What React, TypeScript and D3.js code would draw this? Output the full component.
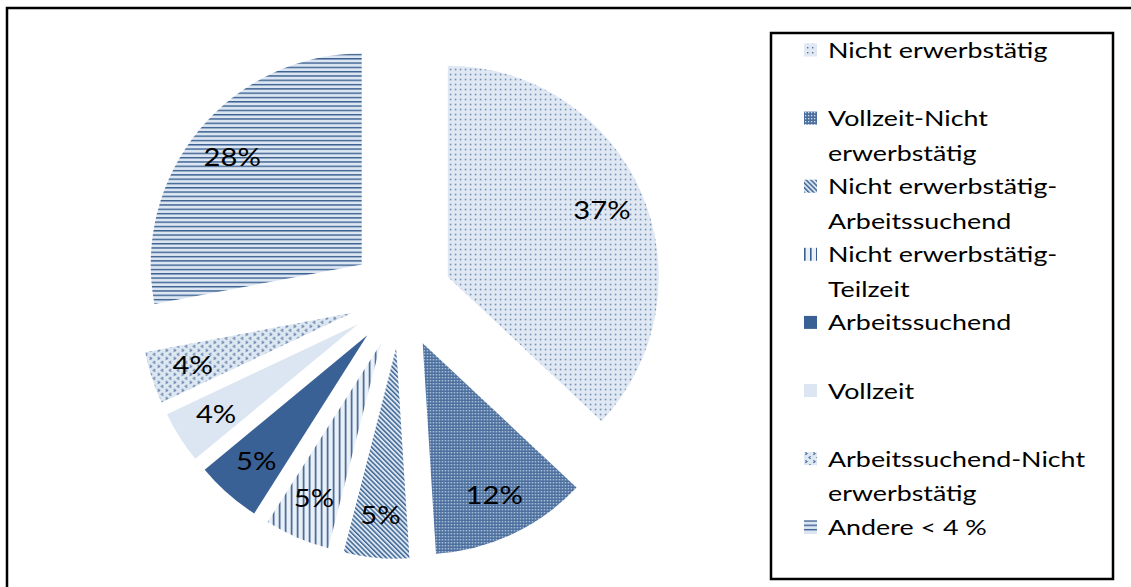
import React from "react";
import * as d3 from "d3";

const categories = [
  "Nicht erwerbstätig",
  "Vollzeit-Nicht erwerbstätig",
  "Nicht erwerbstätig-Arbeitssuchend",
  "Nicht erwerbstätig-Teilzeit",
  "Arbeitssuchend",
  "Vollzeit",
  "Arbeitssuchend-Nicht erwerbstätig",
  "Andere < 4 %",
];
const legendLines = [
  ["Nicht erwerbstätig"],
  ["Vollzeit-Nicht", "erwerbstätig"],
  ["Nicht erwerbstätig-", "Arbeitssuchend"],
  ["Nicht erwerbstätig-", "Teilzeit"],
  ["Arbeitssuchend"],
  ["Vollzeit"],
  ["Arbeitssuchend-Nicht", "erwerbstätig"],
  ["Andere < 4 %"],
];
const values = [37, 12, 5, 5, 5, 4, 4, 28];
const valueLabels = ["37%", "12%", "5%", "5%", "5%", "4%", "4%", "28%"];
const patternIds = ["pDots", "pChecker", "pDiag", "pVert", "pSolidDark", "pSolidLight", "pChevron", "pHoriz"];

const W = 1131;
const H = 587;
const FONT = "Lato, 'Open Sans', sans-serif";

export default function App() {
  const cx = 401;
  const cy = 297;
  const r = 211;
  const explode = 51;
  const labelR = 168;

  const pie = d3
    .pie<number>()
    .sort(null)
    .value((d) => d)
    .startAngle(0)
    .endAngle(2 * Math.PI);
  const arcs = pie(values);
  const arc = d3.arc<d3.PieArcDatum<number>>().innerRadius(0).outerRadius(r);

  const legendX = 771;
  const legendY = 33;
  const legendW = 342;
  const legendH = 546;
  const entryY0 = 50;
  const entryStep = 68.1;
  const lineStep = 34.5;

  return (
    <svg
      width={W}
      height={H}
      style={{ position: "absolute", left: 0, top: 0, background: "#fff" }}
    >
      <defs>
        <pattern id="pDots" width={5} height={5} patternUnits="userSpaceOnUse">
          <rect width={5} height={5} fill="#dfe8f3" />
          <rect x={2} y={2} width={1.4} height={1.4} fill="#4f709c" />
        </pattern>
        <pattern id="pChecker" width={3} height={3} patternUnits="userSpaceOnUse">
          <rect width={3} height={3} fill="#4a6e9d" />
          <rect x={1} y={1} width={1.3} height={1.3} fill="#d3dfee" />
        </pattern>
        <pattern
          id="pDiag"
          width={3.4}
          height={3.4}
          patternUnits="userSpaceOnUse"
          patternTransform="rotate(-45)"
        >
          <rect width={3.4} height={3.4} fill="#dde7f2" />
          <rect width={1.5} height={3.4} fill="#3f6695" />
        </pattern>
        <pattern id="pVert" width={6} height={6} patternUnits="userSpaceOnUse">
          <rect width={6} height={6} fill="#eaf0f7" />
          <rect width={1.6} height={6} fill="#3a5f8f" />
        </pattern>
        <pattern id="pSolidDark" width={4} height={4} patternUnits="userSpaceOnUse">
          <rect width={4} height={4} fill="#3a6195" />
        </pattern>
        <pattern id="pSolidLight" width={4} height={4} patternUnits="userSpaceOnUse">
          <rect width={4} height={4} fill="#dce6f2" />
        </pattern>
        <pattern id="pChevron" width={8} height={8} patternUnits="userSpaceOnUse">
          <rect width={8} height={8} fill="#dde7f2" />
          <path d="M2.6,0.4 L1,1.6 L2.6,2.8" fill="none" stroke="#3f6191" strokeWidth={1.1} />
          <path d="M5.4,4.4 L7,5.6 L5.4,6.8" fill="none" stroke="#3f6191" strokeWidth={1.1} />
        </pattern>
        <pattern id="pHoriz" width={4.3} height={4.3} patternUnits="userSpaceOnUse">
          <rect width={4.3} height={4.3} fill="#dce6f2" />
          <rect width={4.3} height={1.4} fill="#3a5f8f" />
        </pattern>
      </defs>

      {/* outer frame (only top & left visible) */}
      <rect x={7} y={8} width={1140} height={600} fill="none" stroke="#000" strokeWidth={2.5} />

      {/* pie slices */}
      <g>
        {arcs.map((a, i) => {
          const mid = (a.startAngle + a.endAngle) / 2;
          const ox = cx + Math.sin(mid) * explode;
          const oy = cy - Math.cos(mid) * explode;
          return (
            <g key={categories[i]} transform={`translate(${ox},${oy})`}>
              <path d={arc(a) || ""} fill={`url(#${patternIds[i]})`} stroke="none" />
            </g>
          );
        })}
      </g>

      {/* labels */}
      <g>
        {arcs.map((a, i) => {
          const mid = (a.startAngle + a.endAngle) / 2;
          const ox = cx + Math.sin(mid) * explode;
          const oy = cy - Math.cos(mid) * explode;
          const lx = ox + Math.sin(mid) * labelR;
          const ly = oy - Math.cos(mid) * labelR;
          return (
            <text
              key={"l" + i}
              transform={`translate(${lx},${ly + 9}) scale(1.17,1)`}
              textAnchor="middle"
              fontFamily={FONT}
              fontSize={25}
              fill="#000"
            >
              {valueLabels[i]}
            </text>
          );
        })}
      </g>

      {/* legend */}
      <rect
        x={legendX}
        y={legendY}
        width={legendW}
        height={legendH}
        fill="#fff"
        stroke="#000"
        strokeWidth={2.5}
      />
      <g>
        {categories.map((c, i) => {
          const yc = entryY0 + entryStep * i;
          return (
            <g key={"lg" + i}>
              <rect x={804} y={yc - 6.5} width={13} height={13} fill={`url(#${patternIds[i]})`} />
              {legendLines[i].map((ln, j) => (
                <text
                  key={j}
                  transform={`translate(828,${yc + j * lineStep + 8}) scale(1.22,1)`}
                  fontFamily={FONT}
                  fontSize={22}
                  fill="#000"
                >
                  {ln}
                </text>
              ))}
            </g>
          );
        })}
      </g>
    </svg>
  );
}
